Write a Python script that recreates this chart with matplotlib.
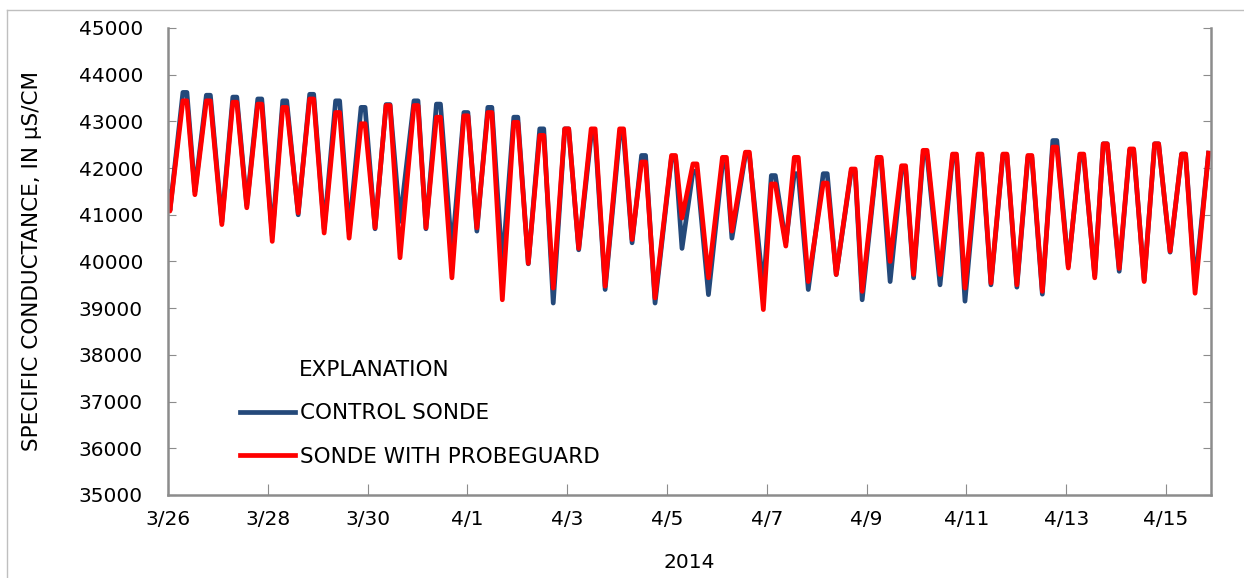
import matplotlib
matplotlib.use('Agg')
import matplotlib.pyplot as plt
import matplotlib.dates as mdates
from matplotlib.lines import Line2D
import pandas as pd

# values; times in days after 3/26/2014 00:00
# high tides: each crest has a start and an end time
crest_start = [0.30, 0.77, 1.30, 1.80, 2.30, 2.84, 3.36, 3.87, 4.37, 4.93,
               5.38, 5.93, 6.41, 6.93, 7.45, 7.95, 8.48, 9.05, 9.49, 10.09,
               10.52, 11.11, 11.57, 12.09, 12.55, 13.13, 13.69, 14.21, 14.70, 15.13,
               15.72, 16.23, 16.73, 17.23, 17.73, 18.27, 18.74, 19.27, 19.77, 20.31,
               20.85]
crest_end = [0.38, 0.85, 1.38, 1.88, 2.38, 2.92, 3.44, 3.95, 4.45, 5.01,
             5.46, 6.01, 6.49, 7.01, 7.53, 8.03, 8.56, 9.13, 9.57, 10.17,
             10.60, 11.19, 11.65, 12.17, 12.63, 13.21, 13.77, 14.29, 14.78, 15.21,
             15.80, 16.31, 16.81, 17.31, 17.81, 18.35, 18.82, 19.35, 19.85, 20.39,
             20.85]
crest_control = [43620, 43560, 43520, 43480, 43440, 43580, 43440, 43300, 43360, 43440,
                 43370, 43190, 43300, 43090, 42840, 42840, 42700, 42700, 42270, 42230,
                 41930, 42080, 42280, 41840, 41880, 41880, 41930, 42180, 41980, 42280,
                 42230, 42230, 42280, 42230, 42590, 42230, 42520, 42380, 42520, 42300,
                 42320]
crest_probeguard = [43440, 43440, 43410, 43370, 43300, 43480, 43190, 42950, 43340, 43340,
                    43090, 43120, 43190, 42980, 42700, 42840, 42840, 42840, 42130, 42270,
                    42090, 42230, 42340, 41660, 42230, 41680, 41980, 42230, 42050, 42380,
                    42300, 42300, 42300, 42270, 42450, 42300, 42520, 42410, 42520, 42300,
                    42320]

# low tides
low_days = [0.00, 0.04, 0.54, 1.08, 1.58, 2.09, 2.61, 3.13, 3.63, 4.15,
            4.65, 5.17, 5.69, 6.19, 6.70, 7.22, 7.72, 8.23, 8.76, 9.30,
            9.76, 10.30, 10.83, 11.30, 11.93, 12.38, 12.83, 13.39, 13.91, 14.47,
            14.94, 15.47, 15.97, 16.49, 17.01, 17.52, 18.04, 18.57, 19.06, 19.56,
            20.08, 20.58]
low_control = [41500, 41100, 41500, 40850, 41200, 40550, 41000, 40700, 40650, 40700,
               40860, 40700, 40200, 40650, 39900, 39950, 39110, 40250, 39400, 40400,
               39110, 40280, 39290, 40500, 39400, 40400, 39400, 39720, 39180, 39570,
               39650, 39500, 39150, 39500, 39450, 39300, 39900, 39700, 39790, 39600,
               40200, 39500]
low_probeguard = [41400, 41080, 41430, 40790, 41150, 40430, 41040, 40610, 40500, 40720,
                  40080, 40720, 39650, 40720, 39180, 39960, 39430, 40280, 39470, 40470,
                  39220, 40930, 39650, 40650, 38970, 40330, 39570, 39720, 39360, 40000,
                  39720, 39720, 39430, 39540, 39500, 39360, 39860, 39650, 39850, 39570,
                  40220, 39320]

start = pd.Timestamp('2014-03-26')

# merge crests and lows into one time-ordered series per sonde
pts_c = list(zip(low_days, low_control)) + list(zip(crest_start, crest_control)) \
    + list(zip(crest_end, crest_control))
pts_p = list(zip(low_days, low_probeguard)) + list(zip(crest_start, crest_probeguard)) \
    + list(zip(crest_end, crest_probeguard))
ser_c = pd.DataFrame(pts_c, columns=['d', 'v']).drop_duplicates('d').sort_values('d')
ser_p = pd.DataFrame(pts_p, columns=['d', 'v']).drop_duplicates('d').sort_values('d')
t_c = start + pd.to_timedelta(ser_c['d'], unit='D')
t_p = start + pd.to_timedelta(ser_p['d'], unit='D')

plt.rcParams['font.family'] = ['DejaVu Sans']
plt.rcParams['font.size'] = 14.5

fig = plt.figure(figsize=(12.44, 5.78), dpi=100)
ax = fig.add_axes([0.135, 0.1436, 0.8385, 0.808])

ax.plot(t_c, ser_c['v'], color='#24497A', lw=3.4, label='CONTROL SONDE',
        solid_joinstyle='round')
ax.plot(t_p, ser_p['v'], color='#FF0000', lw=3.4, label='SONDE WITH PROBEGUARD',
        solid_joinstyle='round')

ax.set_ylim(35000, 45000)
ax.set_yticks(range(35000, 45001, 1000))
ax.set_xlim(start, start + pd.Timedelta(days=20.9))
ax.xaxis.set_major_locator(mdates.DayLocator(bymonthday=[26, 28, 30, 1, 3, 5, 7, 9, 11, 13, 15]))
ax.xaxis.set_major_formatter(mdates.DateFormatter('%-m/%-d'))

ax.spines['top'].set_visible(False)
for s in ['left', 'right', 'bottom']:
    ax.spines[s].set_color('#8C8C8C')
    ax.spines[s].set_linewidth(1.8)
ax.tick_params(axis='y', direction='in', length=6, color='#8C8C8C',
               left=True, right=True, pad=18)
ax.tick_params(axis='x', direction='in', length=8, color='#8C8C8C', pad=11)

ax.set_ylabel('SPECIFIC CONDUCTANCE, IN µS/CM', fontsize=15.5, labelpad=26)
ax.set_xlabel('2014', labelpad=17)

ax.text(0.1255, 0.268, 'EXPLANATION', transform=ax.transAxes, va='center',
        fontsize=15.5)
ax.legend(loc='upper left', bbox_to_anchor=(0.069, 0.196), frameon=False,
          fontsize=15.5, handlelength=2.56, handletextpad=0.23,
          labelspacing=1.09, borderpad=0, borderaxespad=0)

# faint outer frame of the original figure
fig.add_artist(Line2D([7 / 1244, 7 / 1244], [0, 1 - 10 / 578], color='#BFBFBF', lw=1))
fig.add_artist(Line2D([7 / 1244, 1], [1 - 10 / 578, 1 - 10 / 578], color='#BFBFBF', lw=1))

fig.savefig('out.png', dpi=100)
